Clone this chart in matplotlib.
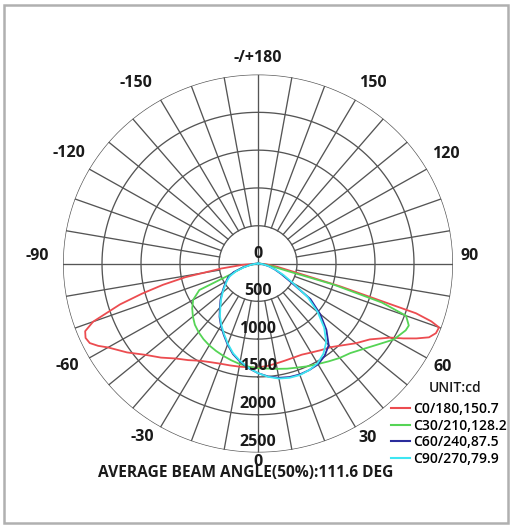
#!/usr/bin/env python3
"""
Polar luminous intensity distribution (C-planes)
"""

import numpy as np
import matplotlib.pyplot as plt
from matplotlib.lines import Line2D
from matplotlib.patches import Rectangle

# gamma angles (deg, 0 = nadir, negative = left half) and intensity (cd) per C-plane
c0_gamma = [-90, -85, -82, -79, -77, -75, -73, -70, -68, -66, -64, -62, -60, -55, -50,
            -45, -40, -35, -30, -25, -20, -15, -10, -5, 0, 5, 10, 15, 20, 25, 30, 35,
            40, 45, 50, 55, 60, 62, 64, 66, 68, 70, 71, 72, 73, 74, 76, 80, 85, 90]
c0_180 = [0, 200, 480, 950, 1250, 1540, 1850, 2250, 2390, 2420, 2400, 2320, 2220, 2050,
          1880, 1760, 1640, 1560, 1485, 1440, 1410, 1395, 1385, 1378, 1376, 1360, 1343,
          1330, 1325, 1330, 1360, 1400, 1445, 1530, 1640, 1750, 1960, 2110, 2260, 2400,
          2460, 2470, 2350, 2130, 1450, 1100, 540, 250, 100, 0]

c30_gamma = [-90, -80, -75, -70, -68, -65, -60, -55, -50, -45, -40, -35, -30, -25, -20,
             -15, -10, -5, 0, 5, 10, 15, 20, 25, 30, 35, 40, 45, 50, 55, 60, 65, 67,
             70, 72, 74, 75, 78, 85, 90]
c30_210 = [0, 100, 200, 300, 360, 830, 960, 1030, 1090, 1145, 1185, 1220, 1250, 1275,
           1300, 1325, 1350, 1370, 1385, 1395, 1415, 1440, 1465, 1500, 1535, 1580, 1630,
           1675, 1760, 1870, 2010, 2090, 2100, 2020, 1670, 1000, 450, 200, 50, 0]

c60_gamma = [-90, -85, -80, -75, -70, -65, -60, -55, -50, -45, -40, -35, -30, -25, -20,
             -15, -10, -5, 0, 5, 10, 15, 20, 25, 30, 35, 40, 45, 50, 55, 60, 65, 70,
             75, 80, 85, 90]
c60_240 = [0, 40, 100, 200, 330, 420, 470, 530, 600, 680, 760, 860, 950, 1040, 1140,
           1240, 1320, 1390, 1450, 1500, 1535, 1555, 1562, 1555, 1540, 1490, 1410,
           1240, 1040, 820, 480, 330, 230, 150, 80, 30, 0]

c90_gamma = c60_gamma
c90_270 = [0, 30, 90, 180, 300, 400, 460, 520, 590, 670, 750, 850, 940, 1030, 1130,
           1230, 1310, 1385, 1450, 1505, 1545, 1565, 1570, 1555, 1525, 1460, 1360,
           1200, 1000, 780, 520, 360, 240, 150, 80, 30, 0]

series_labels = ['C0/180,150.7', 'C30/210,128.2', 'C60/240,87.5', 'C90/270,79.9']
series_colors = ['#ec4c50', '#55d455', '#2a2c9c', '#3ee6f2']

ring_values = [500, 1000, 1500, 2000, 2500]
angle_labels = ['0', '30', '60', '90', '120', '150', '-/+180', '-150', '-120', '-90', '-60', '-30']
# where each angle label sits (theta deg, r in cd units)
angle_label_pos = [(0, 2630), (31.3, 2700), (60, 2730), (92, 2710), (120.9, 2810),
                   (148.4, 2800), (180, 2725), (-146.7, 2850), (-121, 2830),
                   (-92, 2830), (-61, 2800), (-32.9, 2740)]

FONT = 'Open Sans'
TXT = '#1a1a1a'

fig = plt.figure(figsize=(5.11, 5.26), dpi=100)
ax = fig.add_axes([0.1233, 0.1397, 0.7632, 0.7186], projection='polar')
ax.set_theta_zero_location('S')
ax.set_theta_direction(1)
ax.set_rlim(0, 2500)
ax.set_aspect('auto')
ax.grid(False)
ax.set_xticks([])
ax.set_yticks([])
ax.spines['polar'].set_visible(False)

grid_kw = dict(color='#555555', lw=0.95, zorder=1)
t = np.linspace(0, 2 * np.pi, 721)
for rv in ring_values:
    ax.plot(t, np.full_like(t, rv), **grid_kw)
for a in range(0, 360, 10):
    r0 = 0 if a % 90 == 0 else 500
    ax.plot([np.radians(a)] * 2, [r0, 2500], **grid_kw)

# curves
series = [(c0_gamma, c0_180), (c30_gamma, c30_210), (c60_gamma, c60_240), (c90_gamma, c90_270)]
for (g, vals), col in zip(series, series_colors):
    ax.plot(np.radians(g), vals, color=col, lw=1.3, zorder=3)

# angle labels
for (a, r), lab in zip(angle_label_pos, angle_labels):
    ax.text(np.radians(a), r, lab, ha='center', va='center', fontsize=11.5,
            family=FONT, fontweight='bold', color=TXT)

# radial labels
ax.text(np.pi, 120, '0', ha='center', va='center', fontsize=11.5,
        family=FONT, fontweight='bold', color=TXT, zorder=4)
for rv in ring_values:
    ax.text(0, rv - 140, str(rv), ha='center', va='center', fontsize=11.5,
            family=FONT, fontweight='bold', color=TXT, zorder=4)

fig.text(0.481, 0.1010, 'AVERAGE BEAM ANGLE(50%):111.6 DEG', ha='center', va='center',
         fontsize=11.2, family=FONT, fontweight='bold', color=TXT)

# legend
fig.text(455 / 511, 1 - 388 / 526, 'UNIT:cd', ha='center', va='center', fontsize=10,
         family=FONT, fontweight='semibold', color=TXT)
handles = [Line2D([], [], color=c, lw=1.5) for c in series_colors]
fig.legend(handles, series_labels, loc='upper left',
           bbox_to_anchor=(0.748, 0.251), frameon=False,
           prop={'family': FONT, 'size': 10, 'weight': 'semibold'},
           handlelength=1.4, handletextpad=0.25, labelspacing=0.18, borderpad=0.1)

fig.patches.append(Rectangle((4 / 511, 3 / 526), 504 / 511, 518 / 526,
                             transform=fig.transFigure, fill=False,
                             edgecolor='#b0b0b0', lw=1.8))

plt.savefig('out.png', dpi=100)
plt.close()
